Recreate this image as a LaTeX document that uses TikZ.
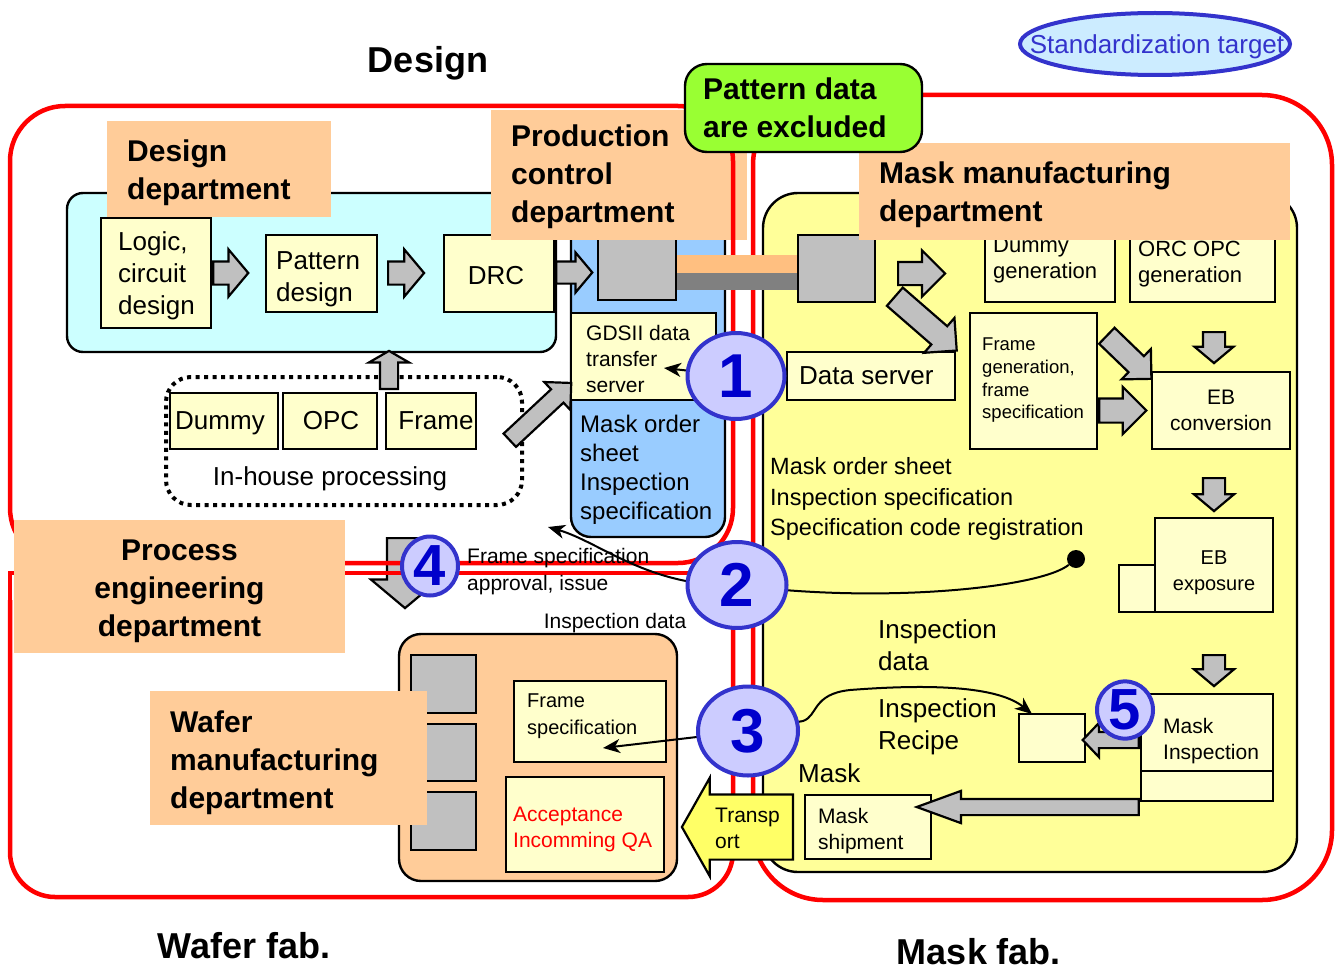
\documentclass[tikz,border=0pt]{standalone}
\usepackage{fontspec}
\setmainfont{Liberation Sans}
\usetikzlibrary{shapes.arrows,shapes.geometric,arrows.meta}

\definecolor{regred}{HTML}{FF0000}
\definecolor{cyanfill}{HTML}{CCFFFF}
\definecolor{paleyellow}{HTML}{FFFFCC}
\definecolor{maskyellow}{HTML}{FFFF99}
\definecolor{pcblue}{HTML}{99CCFF}
\definecolor{deptorange}{HTML}{FFCC99}
\definecolor{notegreen}{HTML}{99FF33}
\definecolor{srvgray}{HTML}{C0C0C0}
\definecolor{banddark}{HTML}{808080}
\definecolor{bandorange}{HTML}{FFBF80}
\definecolor{stepfill}{HTML}{CCCCFF}
\definecolor{stepline}{HTML}{3333CC}
\definecolor{stepdigit}{HTML}{0000CC}
\definecolor{shipyellow}{HTML}{FFFF66}
\definecolor{tagfill}{HTML}{CCECFF}

\newcommand{\fsz}[2]{\fontsize{#1}{#2}\selectfont}

\pgfdeclarelayer{front}
\pgfsetlayers{main,front}

\begin{document}
\begin{tikzpicture}[x=1pt, y=-1pt,
  box/.style={draw=black, line width=2.4pt, fill=paleyellow, inner sep=0pt},
  srv/.style={draw=black, line width=2.4pt, fill=srvgray, inner sep=0pt},
  dept/.style={fill=deptorange, inner sep=0pt},
  depttext/.style={inner sep=0pt, align=left, font=\bfseries\fsz{30}{38}},
  txt/.style={inner sep=0pt, align=left},
  region/.style={draw=regred, line width=4.5pt},
  % block arrow placed by its tail: length, half shaft width, head extend, tip angle
  ba/.style n args={4}{single arrow, draw=black, fill=srvgray, line width=2.2pt,
    inner xsep=0pt, inner ysep=#2pt, minimum height=#1pt,
    single arrow head extend=#3pt, single arrow tip angle=#4, anchor=tail},
  conn/.style={line width=2pt, -{Stealth[length=17pt, width=14pt, inset=5pt]}},
  numc/.style={ellipse, draw=stepline, line width=4pt, fill=stepfill,
    text=stepdigit, inner sep=0pt, font=\bfseries\fsz{62}{62}},
  title/.style={inner sep=0pt, font=\bfseries\fsz{36}{40}},
]
\useasboundingbox (0,0) rectangle (1340,971);

% ---------- headings ----------
\node[title] (tdesign) at (428,63) {Design};
\node[title] (twafer) at (244,946) {Wafer fab.};
\node[title] (tmask) at (979,952) {Mask fab.};

\node[ellipse, draw=stepline, line width=4pt, fill=tagfill, minimum width=270pt,
      minimum height=62pt, inner sep=0pt] (std) at (1155,44) {};
\node[inner sep=0pt, text=stepline, font=\fsz{26}{30}] (tstd) at (1157,47) {Standardization target};

% ---------- design department ----------
\node[draw=black, line width=2.4pt, fill=cyanfill, rounded corners=16pt,
      minimum width=489pt, minimum height=159pt] (designarea) at (311.5,272.5) {};
\node[box, minimum width=110pt, minimum height=110pt] (logic) at (156,273) {};
\node[txt, anchor=west, font=\fsz{26}{32}] (tlogic) at (118,276) {Logic,\\circuit\\design};
\node[box, minimum width=111pt, minimum height=77pt] (pattern) at (321.5,273.5) {};
\node[txt, anchor=west, font=\fsz{26}{32}] (tpattern) at (276,279) {Pattern\\design};
\node[box, minimum width=110pt, minimum height=77pt] (drc) at (499,273.5) {};
\node[inner sep=0pt, font=\fsz{26}{32}] (tdrc) at (496,276) {DRC};
\node[ba={35}{10.5}{12}{100}] (alp) at (logic.east |- 0,273) {};
\node[ba={36}{10.5}{12}{100}] (apd) at (387,273) {};

% ---------- production control ----------
\node[draw=black, line width=2.4pt, fill=pcblue, rounded corners=20pt,
      minimum width=154pt, minimum height=337pt] (pcarea) at (648,368.5) {};
\node[srv, minimum width=78pt, minimum height=85pt] (srv1) at (637,257.5) {};
\node[ba={36}{10}{9}{100}] (ads) at (drc.east |- 0,272.5) {};
\node[box, minimum width=145pt, minimum height=87pt] (gds) at (643.5,356.5) {};
\node[txt, anchor=west, font=\fsz{21}{26}] (tgds) at (586,359) {GDSII data\\transfer\\server};
\node[txt, anchor=west, font=\fsz{24}{29}] (torder) at (580,470) {Mask order\\sheet\\Inspection\\specification};

% ---------- in-house processing ----------
\node[draw=black, line width=4pt, dash pattern=on 4pt off 4.5pt, rounded corners=25pt,
      minimum width=356pt, minimum height=128pt] (inhouse) at (344,441) {};
\node[box, minimum width=108pt, minimum height=56pt] (dummy) at (224,421) {};
\node[box, minimum width=94pt, minimum height=56pt] (opc) at (330,421) {};
\node[box, minimum width=90pt, minimum height=56pt] (frame) at (431,421) {};
\node[inner sep=0pt, font=\fsz{26}{30}] (tdummy) at (220,423) {Dummy};
\node[inner sep=0pt, font=\fsz{26}{30}] (topc) at (331,421) {OPC};
\node[inner sep=0pt, font=\fsz{26}{30}] (tframe) at (436,421) {Frame};
\node[inner sep=0pt, font=\fsz{26}{30}] (tinhouse) at (330,479) {In-house processing};
\node[ba={38}{8}{11}{120}, rotate=90] (aup) at (389,390) {};
\node[ba={84}{8}{10}{90}, rotate=43] (agds) at (509,441) {};

% ---------- mask manufacturing ----------
\node[draw=black, line width=2.4pt, fill=maskyellow, rounded corners=35pt,
      minimum width=534pt, minimum height=679pt] (maskarea) at (1030,532.5) {};
\node[srv, minimum width=77pt, minimum height=67pt] (srv2) at (836.5,268.5) {};
\node[box, minimum width=130pt, minimum height=92pt] (dummygen) at (1050,256) {};
\node[txt, anchor=west, font=\fsz{22}{26}] (tdummygen) at (993,260) {Dummy\\generation};
\node[box, minimum width=145pt, minimum height=92pt] (orc) at (1202.5,256) {};
\node[txt, anchor=west, font=\fsz{22}{26}] (torc) at (1138,264) {ORC OPC\\generation};
\node[box, minimum width=168pt, minimum height=48pt] (ds) at (871,376) {};
\node[inner sep=0pt, anchor=west, font=\fsz{26}{30}] (tds) at (799,376) {Data server};
\node[box, minimum width=127pt, minimum height=136pt] (framegen) at (1033.5,381) {};
\node[txt, anchor=west, font=\fsz{18.5}{22.7}] (tframegen) at (982,380.5) {Frame\\generation,\\frame\\specification};
\node[box, minimum width=138pt, minimum height=77pt] (ebconv) at (1221,410.5) {};
\node[inner sep=0pt, align=center, font=\fsz{21}{26}] (tebconv) at (1221,410) {EB\\conversion};
\node[box, minimum width=36pt, minimum height=47pt] (ebside) at (1137,588.5) {};
\node[box, minimum width=118pt, minimum height=94pt] (ebexp) at (1214,565) {};
\node[inner sep=0pt, align=center, font=\fsz{20}{26}] (tebexp) at (1214,573) {EB\\exposure};
\node[box, minimum width=66pt, minimum height=48pt] (recipe) at (1052,738) {};
\node[box, minimum width=132pt, minimum height=30pt] (maskinspb) at (1207,786) {};
\node[box, minimum width=132pt, minimum height=77pt] (maskinsp) at (1207,732.5) {};
\node[txt, anchor=west, font=\fsz{21}{26}] (tmaskinsp) at (1163,741) {Mask\\Inspection};
\node[box, minimum width=126pt, minimum height=64pt] (ship) at (868,827) {};
\node[txt, anchor=west, font=\fsz{21}{26}] (tship) at (818,831) {Mask\\shipment};

\node[txt, anchor=west, font=\fsz{23.5}{30.5}] (tsheet) at (770,499) {Mask order sheet\\Inspection specification\\Specification code registration};
\node[txt, anchor=west, font=\fsz{26}{32}] (tinspdata) at (878,645) {Inspection\\data};
\node[txt, anchor=west, font=\fsz{26}{32}] (trecipe) at (878,727) {Inspection\\Recipe};
\node[txt, anchor=west, font=\fsz{26}{32}] (tmasklbl) at (798,773) {Mask};

\node[ba={47}{10.5}{11.5}{90}] (adg) at (897,273.5) {};
\node[ba={82}{11}{11}{90}, rotate=-41] (adiag) at (894,296) {};
\node[ba={62}{10}{10}{90}, rotate=-44] (afdiag) at (1106,335) {};
\node[ba={47}{11}{11.5}{90}] (afr) at (framegen.east |- 0,410.5) {};
\node[ba={31}{10}{8.5}{100}, rotate=-90] (adn1) at (1214,331) {};
\node[ba={33}{10}{9}{100}, rotate=-90] (adn2) at (1214,477) {};
\node[ba={31}{10}{9}{100}, rotate=-90] (adn3) at (1214,654) {};
\node[ba={56}{7}{9}{93}, rotate=180] (arec) at (maskinsp.west |- 0,740) {};
\node[ba={222}{7}{8}{40}, rotate=180] (aship) at (maskinsp.west |- 0,807) {};

% ---------- labels under the fab outlines ----------
\node[dept, minimum width=256pt, minimum height=130pt] (lprod) at (619,175) {};
\node[depttext, anchor=west] (tlprod) at (511,177) {Production\\control\\department};
\node[dept, minimum width=431pt, minimum height=97pt] (lmask) at (1074.5,191.5) {};
\node[depttext, anchor=west] (tlmask) at (879,195) {Mask manufacturing\\department};
\node[ba={70}{17}{16}{100}, rotate=-90] (aproc) at (405,537) {};

% ---------- fab outlines ----------
\draw[region, rounded corners=55pt] (10,106) rectangle (733,563);
\draw[region, rounded corners=45pt] (733,573) -- (733,897) -- (10,897) -- (10,600);
\draw[region] (10,603) -- (10,573) -- (733,573);
\draw[region, rounded corners=70pt] (753,95) rectangle (1332,900);

% ---------- data link between the two servers ----------
\coordinate (bandup) at (0,264);
\coordinate (banddn) at (0,281.5);
\draw[bandorange, line width=18pt] (srv1.east |- bandup) -- (srv2.west |- bandup);
\draw[banddark, line width=17pt] (srv1.east |- banddn) -- (srv2.west |- banddn);

\node[draw=black, line width=2.4pt, fill=notegreen, rounded corners=22pt, minimum width=237pt,
      minimum height=88pt] (excl) at (803.5,108) {};
\node[depttext, anchor=west] (texcl) at (703,108) {Pattern data\\are excluded};

% ---------- design and wafer fab labels ----------
\node[dept, minimum width=224pt, minimum height=96pt] (ldesign) at (219,169) {};
\node[depttext, anchor=west] (tldesign) at (127,173) {Design\\department};
\node[dept, minimum width=331pt, minimum height=133pt] (lproc) at (179.5,586.5) {};
\node[depttext, align=center] (tlproc) at (179.5,591) {Process\\engineering\\department};

\node[draw=black, line width=2.4pt, fill=deptorange, rounded corners=22pt,
      minimum width=278pt, minimum height=247pt] (wafarea) at (538,757.5) {};
\node[srv, minimum width=65pt, minimum height=58pt] (wsrv1) at (443.5,684) {};
\node[srv, minimum width=65pt, minimum height=57pt] (wsrv2) at (443.5,752.5) {};
\node[srv, minimum width=65pt, minimum height=58pt] (wsrv3) at (443.5,821) {};
\node[box, minimum width=152pt, minimum height=81pt] (framespec) at (590,721.5) {};
\node[txt, anchor=west, font=\fsz{20}{27}] (tframespec) at (527,716.5) {Frame\\specification};
\node[box, minimum width=158pt, minimum height=95pt] (accept) at (585,824.5) {};
\node[txt, anchor=west, text=red, font=\fsz{21}{26}] (taccept) at (513,829) {Acceptance\\Incomming QA};
\node[dept, minimum width=277pt, minimum height=134pt] (lwafer) at (288.5,758) {};
\node[depttext, anchor=west] (tlwafer) at (170,762.5) {Wafer\\manufacturing\\department};

\node[inner sep=0pt, font=\fsz{21}{26}] (tinspwafer) at (615,623) {Inspection data};
\node[txt, anchor=west, font=\fsz{21}{27}] (tapprove) at (467,571.5) {Frame specification\\approval, issue};

% ---------- numbered flows (circles sit on the front layer) ----------
\begin{pgfonlayer}{front}
\node[numc, minimum width=97pt, minimum height=86pt] (c1) at (736,376) {1};
\node[numc, minimum width=99pt, minimum height=86pt] (c2) at (737,585) {2};
\node[numc, minimum width=100pt, minimum height=89pt] (c3) at (748,731) {3};
\node[numc, minimum width=56pt, minimum height=59pt, font=\bfseries\fsz{58}{58}] (c4) at (430,566) {4};
\node[numc, minimum width=56pt, minimum height=52pt, font=\bfseries\fsz{58}{58}] (c5) at (1125,710) {5};
\end{pgfonlayer}

\node[circle, fill=black, minimum size=18pt, inner sep=0pt] (dot) at (1076,559) {};
\coordinate (pctip) at (548,527);
\coordinate (gdstip) at (664,368);
\coordinate (fstip) at (603,748);
\coordinate (rectip) at (1032,714);

\draw[conn] (dot) .. controls (1040,588) and (880,604) .. (c2.center)
            .. controls (650,588) and (600,542) .. (pctip);
\draw[conn] (c1.center) -- (gdstip);
\draw[conn] (c1.center) -- (ds.west);
\draw[conn] (c3.center) -- (fstip);
\draw[conn] (c3.center) -- (803,721) .. controls (818,716) and (812,694) .. (850,690)
            .. controls (940,683) and (1000,688) .. (rectip);

% ---------- transport to wafer fab ----------
\node[ba={111}{31.5}{16.5}{121}, fill=shipyellow, rotate=180] (transport) at (794,827) {};
\node[txt, anchor=west, font=\fsz{21}{26}] (ttransport) at (715,828) {Transp\\ort};

\end{tikzpicture}
\end{document}
